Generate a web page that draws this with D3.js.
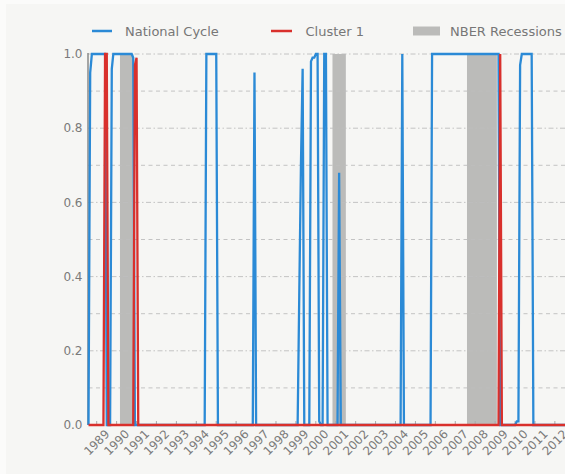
<!DOCTYPE html>
<html>
<head>
<meta charset="utf-8">
<script src="https://cdn.jsdelivr.net/npm/d3@7"></script>
<style>
  body { margin: 0; background: #fbfbfa; }
  svg { display: block; font-family: "DejaVu Sans", sans-serif; }
</style>
</head>
<body>
<script>
var width = 565, height = 474;
var margin = {left: 88.5, right: 0, top: 54, bottom: 49};

// monthly series, 1988-12 .. 2012-11; months not listed sit at 0
var firstMonth = "1988-12", lastMonth = "2012-11";

// National Cycle: spans at 1.0, then single months at other values
var cycleOn = [
    ["1989-02", "1989-10"], ["1990-03", "1991-02"], ["1994-11", "1995-05"],
    ["2000-05", "2000-06"], ["2000-10", "2000-11"], ["2004-09", "2004-09"],
    ["2006-03", "2009-07"], ["2010-09", "2011-03"]
];
var cyclePartial = [
    ["1989-01", 0.95], ["1990-02", 0.96], ["1991-03", 0.99], ["1997-04", 0.95],
    ["1999-07", 0.35], ["1999-08", 0.70], ["1999-09", 0.96],
    ["2000-02", 0.98], ["2000-03", 0.99], ["2000-04", 0.99], ["2000-07", 0.01],
    ["2001-07", 0.68], ["2010-06", 0.01], ["2010-07", 0.01], ["2010-08", 0.97]
];

// Cluster 1
var clusterOn = [["1989-10", "1989-11"], ["2009-08", "2009-08"]];
var clusterPartial = [["1991-04", 0.97], ["1991-05", 0.99]];

// NBER recessions (start, end month)
var recessions = [["1990-07", "1991-03"], ["2001-03", "2001-11"], ["2007-12", "2009-06"]];

var yTicks = [0.0, 0.2, 0.4, 0.6, 0.8, 1.0];
var yGrid = [0.1, 0.2, 0.3, 0.4, 0.5, 0.6, 0.7, 0.8, 0.9, 1.0];
var yearLabels = ["1989", "1990", "1991", "1992", "1993", "1994", "1995", "1996",
    "1997", "1998", "1999", "2000", "2001", "2002", "2003", "2004", "2005", "2006",
    "2007", "2008", "2009", "2010", "2011", "2012"];

var parseMonth = d3.utcParse("%Y-%m");
var fmtMonth = d3.utcFormat("%Y-%m");

function buildSeries(spans, partial) {
    var lookup = new Map();
    spans.forEach(function(s) {
        d3.utcMonth.range(parseMonth(s[0]), d3.utcMonth.offset(parseMonth(s[1]), 1))
            .forEach(function(m) { lookup.set(fmtMonth(m), 1.0); });
    });
    partial.forEach(function(p) { lookup.set(p[0], p[1]); });
    return d3.utcMonth.range(parseMonth(firstMonth), d3.utcMonth.offset(parseMonth(lastMonth), 1))
        .map(function(m) { return {date: m, value: lookup.get(fmtMonth(m)) || 0}; });
}

var national = buildSeries(cycleOn, cyclePartial);
var cluster = buildSeries(clusterOn, clusterPartial);

var svg = d3.select("body").append("svg")
    .attr("width", width)
    .attr("height", height);

// figure face
svg.append("rect")
    .attr("x", 6).attr("y", 4)
    .attr("width", width - 6).attr("height", height - 4)
    .attr("fill", "#f6f6f4");

var x = d3.scaleUtc()
    .domain([parseMonth(firstMonth), parseMonth(lastMonth)])
    .range([margin.left, width - margin.right]);

var y = d3.scaleLinear()
    .domain([0, 1])
    .range([height - margin.bottom, margin.top]);

// recession bands
svg.append("g")
    .selectAll("rect")
    .data(recessions)
    .enter().append("rect")
    .attr("x", function(d) { return x(parseMonth(d[0])); })
    .attr("width", function(d) { return x(parseMonth(d[1])) - x(parseMonth(d[0])); })
    .attr("y", y(1))
    .attr("height", y(0) - y(1))
    .attr("fill", "#bbbbb9");

// grid
svg.append("g")
    .selectAll("line")
    .data(yGrid)
    .enter().append("line")
    .attr("x1", margin.left).attr("x2", width)
    .attr("y1", function(d) { return y(d); })
    .attr("y2", function(d) { return y(d); })
    .attr("stroke", "#bdbdbd")
    .attr("stroke-width", 0.9)
    .attr("stroke-dasharray", function(d) {
        return Math.round(d * 10) % 2 === 0 ? "5,2.5,1.5,2.5" : "4,3.5";
    });

// left spine
svg.append("line")
    .attr("x1", margin.left - 0.5).attr("x2", margin.left - 0.5)
    .attr("y1", y(1) - 1).attr("y2", y(0))
    .attr("stroke", "#555").attr("stroke-width", 1);

// y labels
svg.append("g")
    .selectAll("text")
    .data(yTicks)
    .enter().append("text")
    .attr("x", margin.left - 6)
    .attr("y", function(d) { return y(d); })
    .attr("text-anchor", "end")
    .attr("dy", "0.35em")
    .attr("font-size", 12)
    .attr("fill", "#7a7a7a")
    .text(function(d) { return d.toFixed(1); });

// x ticks + rotated labels (matplotlib put them a touch right of Jan 1)
var labelShift = 6.5;
var xt = svg.append("g")
    .selectAll("g")
    .data(yearLabels)
    .enter().append("g")
    .attr("transform", function(d) {
        return "translate(" + (x(d3.utcParse("%Y")(d)) + labelShift) + ",0)";
    });

xt.append("line")
    .attr("y1", y(0)).attr("y2", y(0) - 4)
    .attr("stroke", "#aaa");

xt.append("text")
    .attr("transform", "translate(0," + (y(0) + 17.5) + ") rotate(-45)")
    .attr("text-anchor", "middle")
    .attr("dy", "0.35em")
    .attr("font-size", 11.8)
    .attr("fill", "#7a7a7a")
    .text(function(d) { return d; });

// lines
var line = d3.line()
    .x(function(d) { return x(d.date); })
    .y(function(d) { return y(d.value); });

svg.append("path")
    .datum(national)
    .attr("fill", "none")
    .attr("stroke", "#2b8ad6")
    .attr("stroke-width", 2.3)
    .attr("d", line);

svg.append("path")
    .datum(cluster)
    .attr("fill", "none")
    .attr("stroke", "#d9302c")
    .attr("stroke-width", 2.3)
    .attr("d", line);

// legend
var legend = svg.append("g").attr("font-size", 13).attr("fill", "#777");

legend.append("line").attr("x1", 92).attr("x2", 112).attr("y1", 31).attr("y2", 31)
    .attr("stroke", "#2b8ad6").attr("stroke-width", 2.5);
legend.append("text").attr("x", 125).attr("y", 31).attr("dy", "0.35em").text("National Cycle");

legend.append("line").attr("x1", 271).attr("x2", 292).attr("y1", 31).attr("y2", 31)
    .attr("stroke", "#d9302c").attr("stroke-width", 2.5);
legend.append("text").attr("x", 305.5).attr("y", 31).attr("dy", "0.35em").text("Cluster 1");

legend.append("rect").attr("x", 413).attr("y", 26.5).attr("width", 27).attr("height", 9)
    .attr("fill", "#bbbbb9");
legend.append("text").attr("x", 450).attr("y", 31).attr("dy", "0.35em").text("NBER Recessions");
</script>
</body>
</html>
